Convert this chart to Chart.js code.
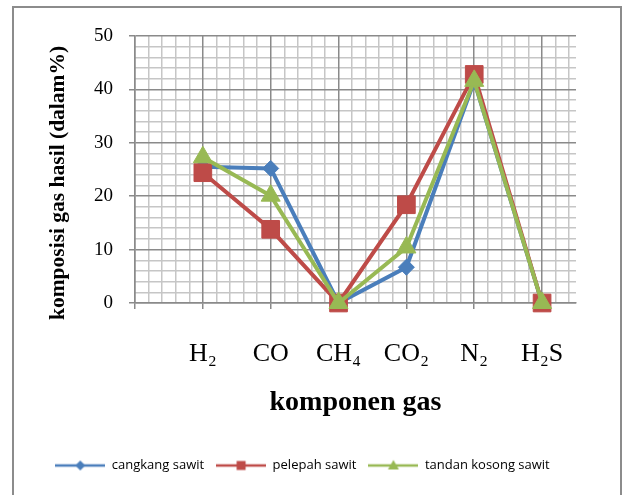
<!DOCTYPE html>
<html>
<head>
<meta charset="utf-8">
<script src="https://cdn.jsdelivr.net/npm/chart.js@4.4.1/dist/chart.umd.min.js"></script>
<style>
  html, body { margin: 0; padding: 0; background: #fff; }
  #frame { position: absolute; left: 12px; top: 6px; width: 606px; height: 600px;
           border: 2px solid #8c8c8c; border-bottom: none; }
  #myChart { position: absolute; left: 0; top: 0; }
</style>
</head>
<body>
<div id="frame"></div>
<canvas id="myChart" width="623" height="495"></canvas>
<script>
// gas components (x axis); first slot on the axis is left empty like the original
var categories = ['H\u2082', 'CO', 'CH\u2084', 'CO\u2082', 'N\u2082', 'H\u2082S'];
var tickLabels = [''].concat(categories);
var yTicks = [0, 10, 20, 30, 40, 50];

// komposisi gas hasil (dalam %)
var cangkangSawit = [25.5, 25.2, 0, 6.7, 41.5, 0];
var pelepahSawit = [24.4, 13.8, 0, 18.4, 42.8, 0];
var tandanKosongSawit = [27.3, 20.1, 0, 10.4, 41.6, 0];

var seriesNames = ['cangkang sawit', 'pelepah sawit', 'tandan kosong sawit'];

var BLUE = '#4a7ebb', RED = '#be4b48', GREEN = '#98b954';
var MAJOR = '#8a8a8a', MINOR = '#c6c6c6';

function points(values) {
    return values.map(function (v, i) { return {x: i + 1, y: v}; });
}

// little line + marker picture for the legend, like excel does
function legendIcon(color, kind) {
    var c = document.createElement('canvas');
    c.width = 50; c.height = 14;
    var g = c.getContext('2d');
    g.strokeStyle = color; g.fillStyle = color; g.lineWidth = 2.5;
    g.beginPath(); g.moveTo(0, 7); g.lineTo(50, 7); g.stroke();
    g.beginPath();
    if (kind === 'diamond') {
        g.moveTo(25, 2); g.lineTo(30, 7); g.lineTo(25, 12); g.lineTo(20, 7);
    } else if (kind === 'square') {
        g.rect(20.5, 2.5, 9, 9);
    } else {
        g.moveTo(25, 1.5); g.lineTo(30.5, 11); g.lineTo(19.5, 11);
    }
    g.closePath(); g.fill();
    return c;
}
var icons = [legendIcon(BLUE, 'diamond'), legendIcon(RED, 'square'), legendIcon(GREEN, 'triangle')];

var minorX = [], minorY = [];
for (var i = 0; i <= 32; i++) { if (i % 5 !== 0) minorX.push({value: i / 5}); }
for (var j = 0; j <= 50; j += 2) { if (j % 10 !== 0) minorY.push({value: j}); }

var serif = 'Liberation Serif, Times New Roman, serif';

var ctx = document.getElementById('myChart').getContext('2d');
var chart = new Chart(ctx, {
    type: 'line',
    data: {
        datasets: [
            {
                label: seriesNames[0],
                data: points(cangkangSawit),
                borderColor: BLUE, backgroundColor: BLUE,
                pointStyle: 'rectRot', pointRadius: 8, pointHoverRadius: 8,
                order: 2
            },
            {
                label: seriesNames[1],
                data: points(pelepahSawit),
                borderColor: RED, backgroundColor: RED,
                pointStyle: 'rect', pointRadius: 12.5, pointHoverRadius: 12.5,
                order: 1
            },
            {
                label: seriesNames[2],
                data: points(tandanKosongSawit),
                borderColor: GREEN, backgroundColor: GREEN,
                pointStyle: 'triangle', pointRadius: 11, pointHoverRadius: 11,
                order: 0
            }
        ]
    },
    options: {
        responsive: false,
        animation: false,
        devicePixelRatio: 1,
        layout: {padding: {left: 12, right: 30, top: 36, bottom: 13}},
        elements: {
            line: {borderWidth: 4, tension: 0},
            point: {borderWidth: 1}
        },
        datasets: {line: {clip: false}},
        scales: {
            xMinor: {
                type: 'linear', position: 'bottom', min: 0, max: 6.5,
                afterBuildTicks: function (s) { s.ticks = minorX; },
                afterFit: function (s) { s.height = 0; },
                ticks: {display: false},
                grid: {color: MINOR, lineWidth: 1.5, drawTicks: false},
                border: {display: false}
            },
            yMinor: {
                type: 'linear', position: 'right', min: 0, max: 50,
                afterBuildTicks: function (s) { s.ticks = minorY; },
                afterFit: function (s) { s.width = 17; },
                ticks: {display: false},
                grid: {color: MINOR, lineWidth: 1.5, drawTicks: false},
                border: {display: false}
            },
            x: {
                type: 'linear', position: 'bottom', min: 0, max: 6.5,
                afterBuildTicks: function (s) {
                    s.ticks = tickLabels.map(function (t, k) { return {value: k}; });
                },
                afterFit: function (s) { s.height = 144; },
                ticks: {
                    autoSkip: false, maxRotation: 0, padding: 30,
                    color: '#000', font: {family: serif, size: 26},
                    callback: function (v) { return tickLabels[v]; }
                },
                grid: {color: MAJOR, lineWidth: 1.5, tickLength: 6},
                border: {color: MAJOR, width: 1.5},
                title: {
                    display: true, text: 'komponen gas', color: '#000',
                    font: {family: serif, size: 28, weight: 'bold'},
                    padding: {top: 0, bottom: 27}
                }
            },
            y: {
                type: 'linear', position: 'left', min: 0, max: 50,
                afterBuildTicks: function (s) {
                    s.ticks = yTicks.map(function (v) { return {value: v}; });
                },
                afterFit: function (s) { s.width = 123; },
                ticks: {
                    padding: 16, color: '#000',
                    font: {family: serif, size: 19}
                },
                grid: {color: MAJOR, lineWidth: 1.5, tickLength: 6},
                border: {color: MAJOR, width: 1.5},
                title: {
                    display: true, text: 'komposisi gas hasil (dalam%)     ', color: '#000',
                    font: {family: serif, size: 21.5, weight: 'bold'},
                    padding: {top: 34, bottom: 0}
                }
            }
        },
        plugins: {
            tooltip: {enabled: false},
            legend: {
                position: 'bottom',
                labels: {
                    usePointStyle: true, pointStyleWidth: 50, boxHeight: 13,
                    padding: 12, color: '#000',
                    font: {family: 'Open Sans', size: 13},
                    generateLabels: function (c) {
                        var items = Chart.defaults.plugins.legend.labels.generateLabels(c);
                        items.forEach(function (it) { it.pointStyle = icons[it.datasetIndex]; });
                        return items;
                    },
                    sort: function (a, b) { return a.datasetIndex - b.datasetIndex; }
                }
            }
        }
    }
});
</script>
</body>
</html>
